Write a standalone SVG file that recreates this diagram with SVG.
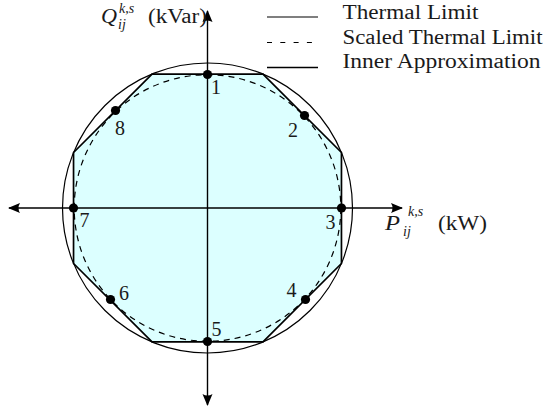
<svg xmlns="http://www.w3.org/2000/svg" width="550" height="415" viewBox="0 0 550 415">
<style>
text{font-family:"Liberation Serif","Times New Roman",serif;fill:#1a1a1a}
.lab{font-size:20px}
.it{font-style:italic}
.sm{font-size:14px;font-style:italic}
.thin{fill:none;stroke:#000;stroke-width:1.2}
.dash{fill:none;stroke:#000;stroke-width:1.2;stroke-dasharray:6,5}
.thick{fill:none;stroke:#000;stroke-width:1.7}
.axis{fill:none;stroke:#000;stroke-width:1.4;marker-end:url(#arr)}
.dot{fill:#000}
</style>
<defs>
<marker id="arr" viewBox="-12 -6 14 12" refX="0" refY="0" markerWidth="14" markerHeight="12" markerUnits="userSpaceOnUse" orient="auto">
<path d="M1,0 L-11,-5 Q-8,0 -11,5 Z" fill="#000"/>
</marker>
</defs>
<g id="region">
<polygon points="152.01,74.04 262.99,74.04 341.46,152.51 341.46,263.49 262.99,341.96 152.01,341.96 73.54,263.49 73.54,152.51" fill="#dcffff" stroke="none"/>
<circle class="dash" cx="207.5" cy="208" r="133.3"/>
<circle class="thin" cx="207.5" cy="208" r="145"/>
<polygon class="thick" points="152.01,74.04 262.99,74.04 341.46,152.51 341.46,263.49 262.99,341.96 152.01,341.96 73.54,263.49 73.54,152.51"/>
</g>
<g id="connectors">
<line class="axis" x1="207.5" y1="208" x2="207.5" y2="11"/>
<line class="axis" x1="207.5" y1="208" x2="207.5" y2="405"/>
<line class="axis" x1="207.5" y1="208" x2="402" y2="208"/>
<line class="axis" x1="207.5" y1="208" x2="9" y2="208"/>
</g>
<g id="p1"><circle class="dot" cx="207.5" cy="74.5" r="4.6"/><text class="lab" x="211" y="94">1</text></g>
<g id="p2"><circle class="dot" cx="304.5" cy="115.5" r="4.6"/><text class="lab" x="288" y="137">2</text></g>
<g id="p3"><circle class="dot" cx="341.5" cy="208" r="4.6"/><text class="lab" x="325.5" y="228.5">3</text></g>
<g id="p4"><circle class="dot" cx="305.5" cy="299.5" r="4.6"/><text class="lab" x="286.5" y="297">4</text></g>
<g id="p5"><circle class="dot" cx="207.5" cy="341.5" r="4.6"/><text class="lab" x="211.5" y="336">5</text></g>
<g id="p6"><circle class="dot" cx="110.5" cy="299.5" r="4.6"/><text class="lab" x="119" y="300">6</text></g>
<g id="p7"><circle class="dot" cx="73.5" cy="208" r="4.6"/><text class="lab" x="79.5" y="227">7</text></g>
<g id="p8"><circle class="dot" cx="115.5" cy="110.5" r="4.6"/><text class="lab" x="115" y="135">8</text></g>
<g id="ylabel">
<text class="lab it" x="101" y="23" textLength="16" lengthAdjust="spacingAndGlyphs">Q</text>
<text class="sm" x="119" y="13">k,s</text>
<text class="sm" x="118" y="29">ij</text>
<text class="lab" x="148" y="23" textLength="59" lengthAdjust="spacingAndGlyphs">(kVar)</text>
</g>
<g id="xlabel">
<text class="lab it" x="385" y="230" textLength="15" lengthAdjust="spacingAndGlyphs">P</text>
<text class="sm" x="408" y="216">k,s</text>
<text class="sm" x="403" y="236">ij</text>
<text class="lab" x="438" y="230" textLength="49" lengthAdjust="spacingAndGlyphs">(kW)</text>
</g>
<g id="legend">
<line class="thin" x1="267" y1="17" x2="318" y2="17"/>
<text class="lab" x="342.5" y="18.5" textLength="136" lengthAdjust="spacingAndGlyphs">Thermal Limit</text>
<line x1="267" y1="42.5" x2="313" y2="42.5" stroke="#000" stroke-width="1.2" stroke-dasharray="5,8.3"/>
<text class="lab" x="342.5" y="43.5" textLength="200" lengthAdjust="spacingAndGlyphs">Scaled Thermal Limit</text>
<line class="thick" x1="267" y1="67.5" x2="318" y2="67.5"/>
<text class="lab" x="342.5" y="68" textLength="198" lengthAdjust="spacingAndGlyphs">Inner Approximation</text>
</g>
</svg>
